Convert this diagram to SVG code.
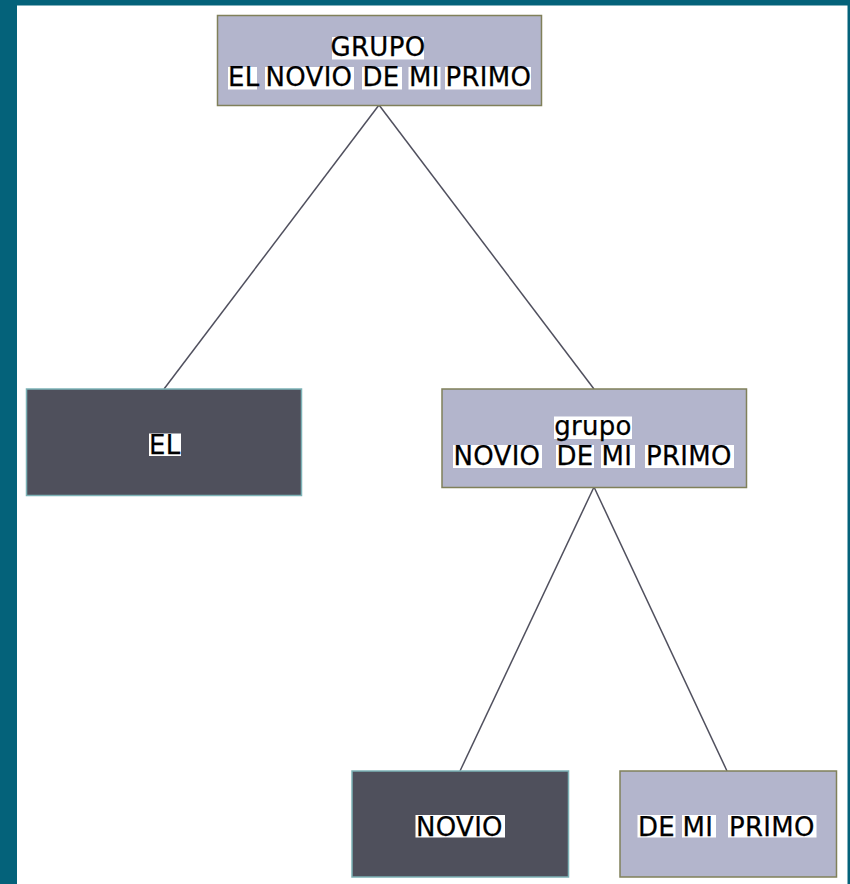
<svg xmlns="http://www.w3.org/2000/svg" width="850" height="884" viewBox="0 0 850 884">
  <style>
    .light { fill: #b3b5cc; stroke: #80805a; stroke-width: 1.5; }
    .dark { fill: #4f505c; stroke: #7cb2b6; stroke-width: 1.5; }
    .hl { fill: #ffffff; }
    .t { font-family: "DejaVu Sans", Verdana, sans-serif; font-size: 26px; fill: #000000; letter-spacing: 0.3px; stroke: #000000; stroke-width: 0.25px; }
    .edge { stroke: #50505e; stroke-width: 1.5; fill: none; }
  </style>
  <rect x="0" y="0" width="850" height="884" fill="#04627a"/>
  <rect x="17" y="5.5" width="830.5" height="878.5" fill="#ffffff"/>

  <g id="connectors">
    <line class="edge" x1="379" y1="105" x2="164" y2="389"/>
    <line class="edge" x1="379" y1="105" x2="594" y2="389"/>
    <line class="edge" x1="594" y1="487" x2="460" y2="771"/>
    <line class="edge" x1="594" y1="487" x2="727" y2="771"/>
  </g>

  <g id="node-grupo-root">
    <rect class="light" x="217.5" y="15.5" width="324" height="90"/>
    <rect class="hl" x="332" y="37" width="92" height="22.5"/>
    <rect class="hl" x="228" y="67" width="29" height="22.5"/>
    <rect class="hl" x="265" y="67" width="89" height="22.5"/>
    <rect class="hl" x="362" y="67" width="40" height="22.5"/>
    <rect class="hl" x="408.5" y="67" width="32" height="22.5"/>
    <rect class="hl" x="445" y="67" width="86" height="22.5"/>
    <text class="t" x="378" y="56" text-anchor="middle">GRUPO</text>
    <text class="t" y="86"><tspan x="228">EL</tspan> <tspan x="265.5">NOVIO</tspan> <tspan x="362.5">DE</tspan> <tspan x="409">MI</tspan> <tspan x="445.5">PRIMO</tspan></text>
  </g>

  <g id="node-el">
    <rect class="dark" x="26.5" y="389" width="275" height="106.5"/>
    <rect class="hl" x="149" y="433.5" width="32" height="22.5"/>
    <text class="t" x="149" y="454">EL</text>
  </g>

  <g id="node-grupo-sub">
    <rect class="light" x="442" y="389" width="304.5" height="98.5"/>
    <rect class="hl" x="554" y="416.5" width="78" height="22.5"/>
    <rect class="hl" x="453" y="445" width="89" height="23"/>
    <rect class="hl" x="556" y="445" width="38" height="23"/>
    <rect class="hl" x="601" y="445" width="34" height="23"/>
    <rect class="hl" x="645" y="445" width="89" height="23"/>
    <text class="t" x="593" y="435" text-anchor="middle">grupo</text>
    <text class="t" y="465"><tspan x="453.5">NOVIO</tspan> <tspan x="556.5">DE</tspan> <tspan x="601.5">MI</tspan> <tspan x="646">PRIMO</tspan></text>
  </g>

  <g id="node-novio">
    <rect class="dark" x="352" y="771" width="216.5" height="106"/>
    <rect class="hl" x="415.5" y="815" width="89.5" height="22.5"/>
    <text class="t" x="416" y="836">NOVIO</text>
  </g>

  <g id="node-de-mi-primo">
    <rect class="light" x="620" y="771" width="216.5" height="106"/>
    <rect class="hl" x="637.5" y="815" width="38" height="22.5"/>
    <rect class="hl" x="682" y="815" width="34" height="22.5"/>
    <rect class="hl" x="728" y="815" width="88.5" height="22.5"/>
    <text class="t" y="836"><tspan x="638">DE</tspan> <tspan x="682.5">MI</tspan> <tspan x="729">PRIMO</tspan></text>
  </g>
</svg>
